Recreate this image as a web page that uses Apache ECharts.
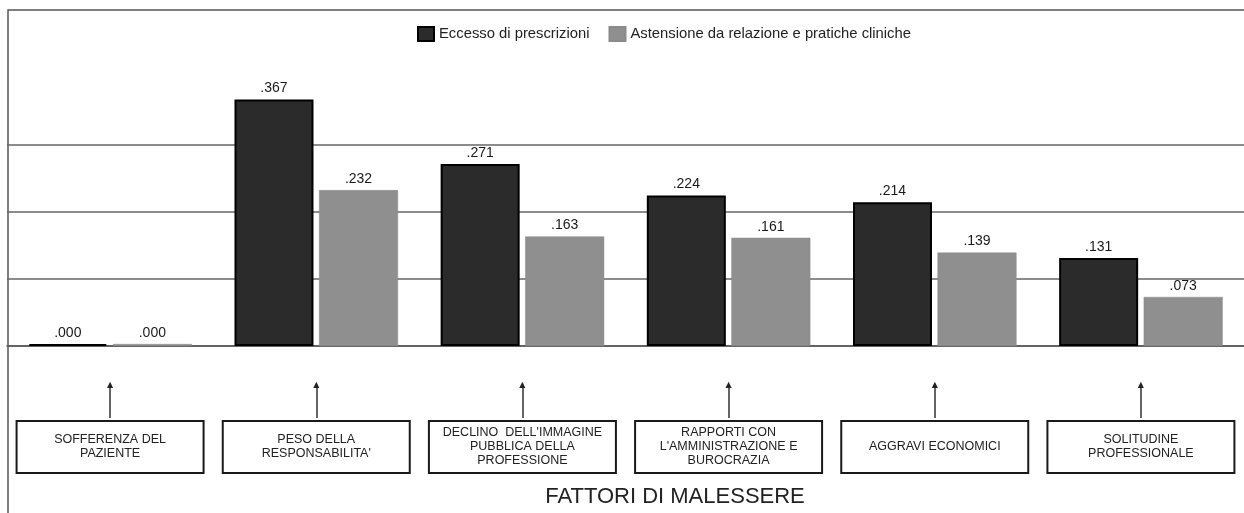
<!DOCTYPE html>
<html>
<head>
<meta charset="utf-8">
<script src="https://cdn.jsdelivr.net/npm/echarts@6/dist/echarts.min.js"></script>
<style>
html,body{margin:0;padding:0;background:#fff;}
#chart{width:1244px;height:513px;}
</style>
</head>
<body>
<div id="chart"></div>
<script>
const categories = [
  'SOFFERENZA DEL\nPAZIENTE',
  "PESO DELLA\nRESPONSABILITA'",
  "DECLINO  DELL'IMMAGINE\nPUBBLICA DELLA\nPROFESSIONE",
  "RAPPORTI CON\nL'AMMINISTRAZIONE E\nBUROCRAZIA",
  'AGGRAVI ECONOMICI',
  'SOLITUDINE\nPROFESSIONALE'
];
const seriesNames = ['Eccesso di prescrizioni', 'Astensione da relazione e pratiche cliniche'];
const eccesso = [0.000, 0.367, 0.271, 0.224, 0.214, 0.131];
const astensione = [0.000, 0.232, 0.163, 0.161, 0.139, 0.073];
const axisTitle = 'FATTORI DI MALESSERE';
const yMin = 0, yMax = 0.5, yStep = 0.1;

const FONT = 'Liberation Sans, Arial, sans-serif';
const fmt = v => v.toFixed(3).replace(/^0/, '');

function boxLabel(v) {
  const lines = v.split('\n');
  const spacer = (3 - lines.length) * 7;
  let out = [];
  if (spacer) out.push('{sp' + spacer + '| }');
  lines.forEach(l => out.push('{t|' + l + '}'));
  if (spacer) out.push('{sp' + spacer + '| }');
  return out.join('\n');
}

const chart = echarts.init(document.getElementById('chart'), null, {renderer: 'canvas'});
chart.setOption({
  backgroundColor: '#fff',
  animation: false,
  textStyle: {fontFamily: FONT},
  graphic: [{
    type: 'rect', silent: true, z: 0,
    shape: {x: 8, y: 10, width: 1400, height: 700},
    style: {fill: 'none', stroke: '#555', lineWidth: 1.5}
  }],
  title: {
    text: axisTitle, left: 675, top: 486, textAlign: 'center', padding: 0,
    textStyle: {fontFamily: FONT, fontSize: 22, fontWeight: 'normal', color: '#222'}
  },
  legend: {
    data: seriesNames, left: 417, top: 26, padding: 0,
    itemWidth: 16, itemHeight: 14, itemGap: 19, icon: 'rect',
    textStyle: {fontFamily: FONT, fontSize: 14.8, color: '#222'}
  },
  grid: {left: 7, right: 0, top: 10, bottom: 167, containLabel: false},
  xAxis: [{
    type: 'category', data: categories,
    axisLine: {show: true, lineStyle: {color: '#555', width: 1.5}},
    axisTick: {show: false}, axisLabel: {show: false}, splitLine: {show: false}
  }, {
    type: 'category', data: categories, position: 'bottom', offset: 72,
    axisLine: {show: false},
    axisTick: {show: true, alignWithLabel: true, inside: true, length: 33,
      lineStyle: {color: '#333', width: 1.5}},
    axisLabel: {
      show: true, interval: 0, margin: 4, hideOverlap: false,
      formatter: boxLabel,
      width: 181, padding: [4, 2, 4, 2],
      borderColor: '#1a1a1a', borderWidth: 2, backgroundColor: '#fff',
      rich: {
        t: {fontFamily: FONT, fontSize: 12.5, lineHeight: 14, color: '#222', align: 'center'},
        sp7: {fontSize: 1, lineHeight: 7},
        sp14: {fontSize: 1, lineHeight: 14}
      }
    }
  }, {
    type: 'category', data: categories, position: 'bottom', offset: 39,
    axisLine: {show: false}, axisTick: {show: false},
    axisLabel: {show: true, inside: true, interval: 0, margin: -4,
      formatter: () => '▲', fontFamily: 'DejaVu Sans', fontSize: 8, color: '#222'}
  }],
  yAxis: {
    type: 'value', min: yMin, max: yMax, interval: yStep,
    axisLine: {show: false}, axisTick: {show: false}, axisLabel: {show: false},
    splitLine: {show: true, lineStyle: {width: 1.5,
      color: ['#666', '#666', '#666', '#666', 'rgba(0,0,0,0)', 'rgba(0,0,0,0)']}}
  },
  series: [{
    name: seriesNames[0], type: 'bar', data: eccesso, xAxisIndex: 0,
    barWidth: 79, barGap: '7%', barMinHeight: 2,
    itemStyle: {color: '#2b2b2b', borderColor: '#000', borderWidth: 2},
    label: {show: true, position: 'top', distance: 4, formatter: p => fmt(p.value),
      fontFamily: FONT, fontSize: 14, color: '#1a1a1a'}
  }, {
    name: seriesNames[1], type: 'bar', data: astensione, xAxisIndex: 0,
    barWidth: 79, barGap: '7%', barMinHeight: 2,
    itemStyle: {color: '#8f8f8f', borderColor: '#8a8a8a', borderWidth: 0.5},
    label: {show: true, position: 'top', distance: 4, formatter: p => fmt(p.value),
      fontFamily: FONT, fontSize: 14, color: '#1a1a1a'}
  }]
});
</script>
</body>
</html>
